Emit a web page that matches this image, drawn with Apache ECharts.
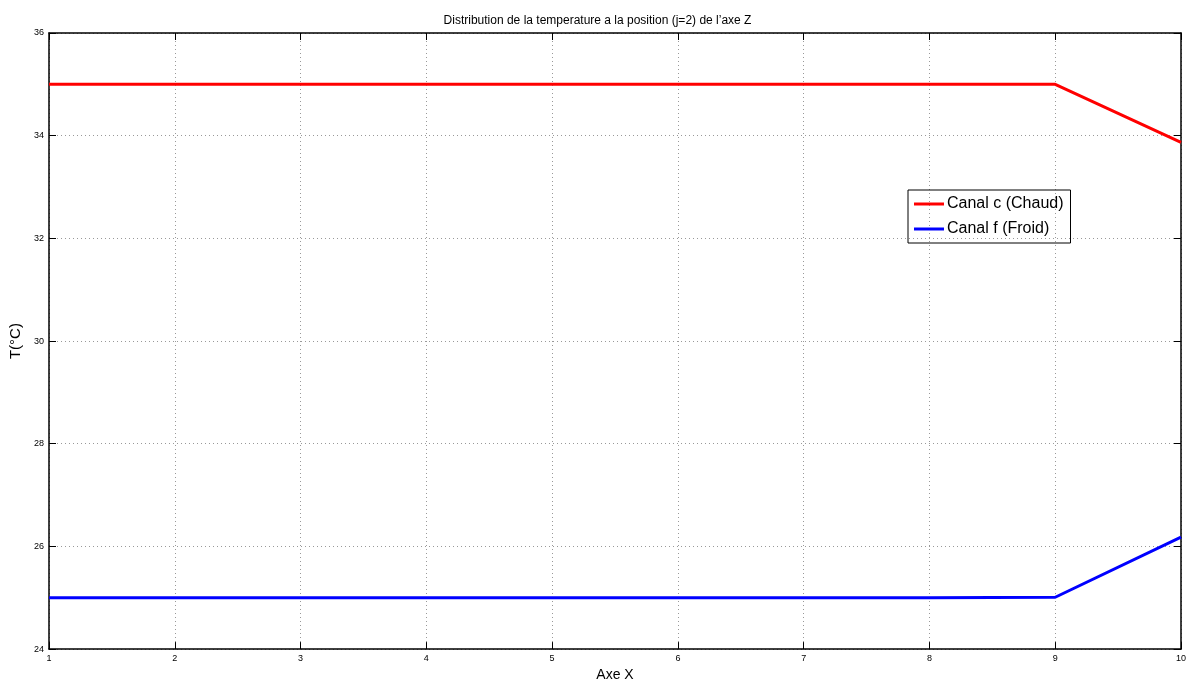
<!DOCTYPE html>
<html><head><meta charset="utf-8">
<script src="https://cdn.jsdelivr.net/npm/echarts@6/dist/echarts.min.js"></script>
<style>html,body{margin:0;padding:0;background:#fff}#c{width:1195px;height:687px}</style>
</head><body><div id="c"></div>
<script>
const xValues = [1, 2, 3, 4, 5, 6, 7, 8, 9, 10];
const chaud = [35.0, 35.0, 35.0, 35.0, 35.0, 35.0, 35.0, 35.0, 35.0, 33.87];
const froid = [25.0, 25.0, 25.0, 25.0, 25.0, 25.0, 25.0, 25.0, 25.01, 26.18];
const seriesNames = ['Canal c (Chaud)', 'Canal f (Froid)'];
const titleText = "Distribution de la temperature a la position (j=2) de l\u2019axe Z";

const font = 'Helvetica, "Liberation Sans", Arial, sans-serif';
const chart = echarts.init(document.getElementById('c'), null, {renderer: 'canvas'});
const lineAxis = {lineStyle: {color: '#000', width: 1.5}};
const grid = {show: false, left: 49, right: 14, top: 33, bottom: 33};
chart.setOption({
  animation: false,
  title: {text: titleText, left: 'center', top: 10, textStyle: {fontFamily: font, fontSize: 12, fontWeight: 'normal', color: '#000'}},
  grid: grid,
  legend: {
    data: seriesNames, orient: 'vertical', left: 908, top: 190,
    borderColor: '#000', borderWidth: 1, padding: [6, 7, 6, 6], itemGap: 9,
    icon: 'rect', itemWidth: 30, itemHeight: 3,
    textStyle: {fontFamily: font, fontSize: 16, color: '#000', padding: [0, 0, 0, -2]}
  },
  xAxis: [{
    type: 'value', min: 1, max: 10, interval: 1, position: 'bottom',
    name: 'Axe X', nameLocation: 'middle', nameGap: 17,
    nameTextStyle: {fontFamily: font, fontSize: 14, color: '#000'},
    axisLine: lineAxis, axisTick: {inside: true, length: 7, lineStyle: {color: '#000'}},
    axisLabel: {fontFamily: font, fontSize: 9, color: '#000', margin: 5},
    splitLine: {show: true, lineStyle: {color: '#999', type: [1, 3], width: 1}}
  }, {
    type: 'value', min: 1, max: 10, interval: 1, position: 'top',
    axisLine: lineAxis, axisTick: {inside: true, length: 7, lineStyle: {color: '#000'}},
    axisLabel: {show: false}, splitLine: {show: false}
  }],
  yAxis: [{
    type: 'value', min: 24, max: 36, interval: 2, position: 'left',
    name: 'T(\u00b0C)', nameLocation: 'middle', nameGap: 21, nameRotate: 90,
    nameTextStyle: {fontFamily: font, fontSize: 15, color: '#000'},
    axisLine: lineAxis, axisTick: {inside: true, length: 7, lineStyle: {color: '#000'}},
    axisLabel: {fontFamily: font, fontSize: 9, color: '#000', margin: 5},
    splitLine: {show: true, lineStyle: {color: '#999', type: [1, 3], width: 1}}
  }, {
    type: 'value', min: 24, max: 36, interval: 2, position: 'right',
    axisLine: lineAxis, axisTick: {inside: true, length: 7, lineStyle: {color: '#000'}},
    axisLabel: {show: false}, splitLine: {show: false}
  }],
  series: [
    {name: seriesNames[0], type: 'line', showSymbol: false, color: '#ff0000',
     lineStyle: {width: 3, color: '#ff0000'}, data: xValues.map((x, i) => [x, chaud[i]])},
    {name: seriesNames[1], type: 'line', showSymbol: false, color: '#0000ff',
     lineStyle: {width: 3, color: '#0000ff'}, data: xValues.map((x, i) => [x, froid[i]])}
  ]
});
</script></body></html>
